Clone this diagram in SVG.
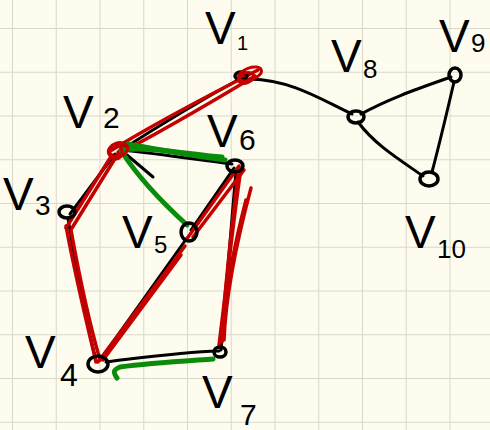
<svg xmlns="http://www.w3.org/2000/svg" width="490" height="430" viewBox="0 0 490 430">
<defs>
<pattern id="grid" x="12" y="28" width="43.75" height="43.75" patternUnits="userSpaceOnUse">
<path d="M0,0 H43.75 M0,0 V43.75" fill="none" stroke="#d9d8cb" stroke-width="2"/>
</pattern>
</defs>
<style>
.lbl{font-family:"Liberation Sans",Arial,sans-serif;fill:#000;}
.v{font-size:46px;}
.blk{fill:none;stroke:#000;stroke-width:3;stroke-linecap:round;stroke-linejoin:round;}
.red{fill:none;stroke:#c40000;stroke-width:3.5;stroke-linecap:round;stroke-linejoin:round;}
.grn{fill:none;stroke:#0a8c0a;stroke-width:5;stroke-linecap:round;stroke-linejoin:round;}
.node{fill:none;stroke:#000;stroke-width:3.5;}
.rnode{fill:none;stroke:#c40000;stroke-width:3;}
</style>
<rect width="490" height="430" fill="#fdfcee"/>
<rect width="490" height="430" fill="url(#grid)"/>

<g id="connectors">
<path class="blk" d="M250,79 C292,80 322,100 352,114"/>
<path class="blk" d="M361,114 C390,98 420,88 451,77"/>
<path class="blk" d="M358,122 C375,145 400,160 423,176"/>
<path class="blk" d="M454,82 C447,112 440,142 432,172"/>
<path class="blk" d="M118,152 C160,125 205,98 245,76"/>
<path class="blk" d="M115,154 L70,214"/>
<path class="blk" d="M68,218 C76,270 86,320 96,360"/>
<path class="blk" d="M100,360 L187,238"/>
<path class="blk" d="M191,230 L234,168"/>
<path class="blk" d="M236,170 L221,350"/>
<path class="blk" d="M122,150 C160,154 200,160 232,164"/>
<path class="blk" d="M127,155 L153,177"/>
<path class="blk" d="M106,362 C140,358 180,352 219,351"/>
<path class="red" d="M112,150 C160,120 210,95 258,70"/>
<path class="red" d="M116,155 C165,130 215,100 255,76"/>
<path class="red" d="M124,144 L72,228"/>
<path class="red" d="M112,155 L66,228"/>
<path class="red" d="M66,226 C75,275 86,320 96,362"/>
<path class="red" d="M71,230 C80,280 90,325 100,360"/>
<path class="red" d="M98,362 L185,246"/>
<path class="red" d="M103,360 L181,255"/>
<path class="red" d="M186,240 L239,166"/>
<path class="red" d="M193,237 L244,170"/>
<path class="red" d="M241,168 C232,230 226,290 219,345"/>
<path class="red" d="M238,175 C231,235 224,290 222,342"/>
<path class="red" d="M251,188 C237,240 226,290 224,340"/>
<path class="red" d="M246,200 C233,250 225,295 222,335"/>
<path class="grn" d="M121,150 C150,146 190,155 222,157"/>
<path class="grn" d="M128,144 C160,150 195,156 225,160"/>
<path class="grn" d="M122,152 C140,180 165,205 187,225"/>
<path class="grn" d="M117,378 C113,372 113,370 120,367 C150,363 185,361 213,359"/>
</g>

<g id="node-v1">
<ellipse class="node" cx="241" cy="76" rx="6" ry="4"/>
<ellipse class="rnode" cx="250" cy="74" rx="12" ry="6" transform="rotate(-20 250 74)"/>
<ellipse class="rnode" cx="246" cy="78" rx="8" ry="5" transform="rotate(-20 246 78)"/>
<text class="lbl" x="205" y="44"><tspan class="v">V</tspan><tspan x="237" y="50" font-size="20">1</tspan></text>
</g>
<g id="node-v8">
<ellipse class="node" cx="356" cy="117" rx="8" ry="6"/>
<text class="lbl" x="331" y="72"><tspan class="v">V</tspan><tspan x="363" y="78" font-size="26">8</tspan></text>
</g>
<g id="node-v9">
<ellipse class="node" cx="455" cy="75" rx="6" ry="7"/>
<text class="lbl" x="439" y="52"><tspan class="v">V</tspan><tspan x="471" y="52" font-size="26">9</tspan></text>
</g>
<g id="node-v10">
<ellipse class="node" cx="429" cy="179" rx="9" ry="7"/>
<text class="lbl" x="405" y="248"><tspan class="v">V</tspan><tspan x="437" y="258" font-size="26">10</tspan></text>
</g>
<g id="node-v2">
<ellipse class="rnode" cx="118" cy="150" rx="10" ry="7" transform="rotate(-20 118 150)"/>
<ellipse class="rnode" cx="116" cy="152" rx="6" ry="7"/>
<text class="lbl" x="63" y="128"><tspan class="v">V</tspan><tspan x="103" y="128" font-size="30">2</tspan></text>
</g>
<g id="node-v6">
<ellipse class="node" cx="235" cy="166" rx="8" ry="6"/>
<text class="lbl" x="207" y="147"><tspan class="v">V</tspan><tspan x="239" y="150" font-size="30">6</tspan></text>
</g>
<g id="node-v3">
<ellipse class="node" cx="67" cy="212" rx="8" ry="6"/>
<text class="lbl" x="3" y="210"><tspan class="v">V</tspan><tspan x="35" y="215" font-size="28">3</tspan></text>
</g>
<g id="node-v5">
<ellipse class="node" cx="189" cy="232" rx="8" ry="9"/>
<text class="lbl" x="122" y="248"><tspan class="v">V</tspan><tspan x="154" y="253" font-size="24">5</tspan></text>
</g>
<g id="node-v4">
<ellipse class="node" cx="98" cy="364" rx="10" ry="8"/>
<text class="lbl" x="25" y="368"><tspan class="v">V</tspan><tspan x="60" y="386" font-size="32">4</tspan></text>
</g>
<g id="node-v7">
<ellipse class="node" cx="220" cy="352" rx="6" ry="5" fill="#000"/>
<text class="lbl" x="202" y="408"><tspan class="v">V</tspan><tspan x="240" y="425" font-size="30">7</tspan></text>
</g>
</svg>
